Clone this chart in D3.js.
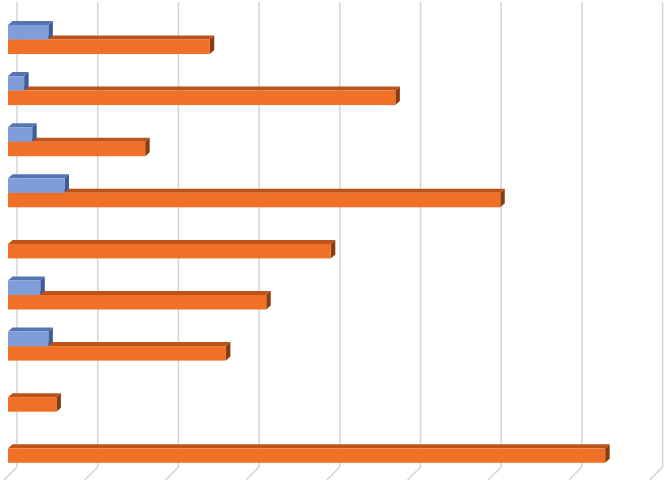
<!DOCTYPE html>
<html>
<head>
<meta charset="utf-8">
<script src="https://cdn.jsdelivr.net/npm/d3@7"></script>
<style>
  html, body { margin: 0; padding: 0; background: #fff; }
  svg { display: block; }
</style>
</head>
<body>
<div id="chart"></div>
<script>
// Category rows (no visible labels in the chart)
const categories = ['c1', 'c2', 'c3', 'c4', 'c5', 'c6', 'c7', 'c8', 'c9'];
const seriesNames = ['blue', 'orange'];
const blueValues = [5, 2, 3, 7, 0, 4, 5, 0, 0];
const orangeValues = [25, 48, 17, 61, 40, 32, 27, 6, 74];
const xTicks = [0, 10, 20, 30, 40, 50, 60, 70, 80];

const W = 671, H = 482;
const DEPTH = { dx: 4.5, dy: 4 };   // oblique offset of the 3D bars
const WALL = { dx: 9, top: 2, floorBack: 467, floorFront: 480, frontDx: -4 };

const COLORS = {
  blue:   { front: '#7f9ed9', top: '#5574b0', side: '#3d5c96' },
  orange: { front: '#ef7026', top: '#bb531a', side: '#8a3c10' },
};

const svg = d3.select('#chart').append('svg')
  .attr('width', W)
  .attr('height', H);

const x = d3.scaleLinear().domain([0, 80]).range([8, 653.6]);

const y = d3.scaleBand()
  .domain(categories)
  .range([13.95, 473.85])
  .paddingInner(0.4325)
  .paddingOuter(0.2163);

const ySub = d3.scaleBand()
  .domain(seriesNames)
  .range([0, y.bandwidth()])
  .padding(0);

// Back wall gridlines + floor lines
const grid = svg.append('g').attr('class', 'grid');
grid.selectAll('.wall-line')
  .data(xTicks)
  .join('line')
  .attr('x1', d => x(d) + WALL.dx).attr('x2', d => x(d) + WALL.dx)
  .attr('y1', WALL.top).attr('y2', WALL.floorBack)
  .attr('stroke', '#d4d4d4')
  .attr('stroke-width', 1.5);

grid.selectAll('.floor-line')
  .data(xTicks)
  .join('line')
  .attr('x1', d => x(d) + WALL.dx).attr('y1', WALL.floorBack)
  .attr('x2', d => x(d) + WALL.frontDx).attr('y2', WALL.floorFront)
  .attr('stroke', '#d4d4d4')
  .attr('stroke-width', 1.5);

// Build rows: orange first so blue sits on top of its top face
const rows = categories.map((c, i) => ({
  cat: c,
  bars: [
    { key: 'orange', value: orangeValues[i] },
    { key: 'blue', value: blueValues[i] },
  ].filter(b => b.value > 0),
}));

function bar3d(g, x0, x1, y0, h, col) {
  const { dx, dy } = DEPTH;
  // top face
  g.append('path')
    .attr('d', `M${x0},${y0} L${x0 + dx},${y0 - dy} L${x1 + dx},${y0 - dy} L${x1},${y0} Z`)
    .attr('fill', col.top);
  // side face
  g.append('path')
    .attr('d', `M${x1},${y0} L${x1 + dx},${y0 - dy} L${x1 + dx},${y0 + h - dy} L${x1},${y0 + h} Z`)
    .attr('fill', col.side);
  // front face
  g.append('rect')
    .attr('x', x0).attr('y', y0)
    .attr('width', x1 - x0).attr('height', h)
    .attr('fill', col.front);
}

const barsG = svg.append('g').attr('class', 'bars');
rows.forEach(r => {
  const g = barsG.append('g');
  r.bars.forEach(b => {
    bar3d(g, x(0), x(b.value), y(r.cat) + ySub(b.key), ySub.bandwidth(), COLORS[b.key]);
  });
});
</script>
</body>
</html>
